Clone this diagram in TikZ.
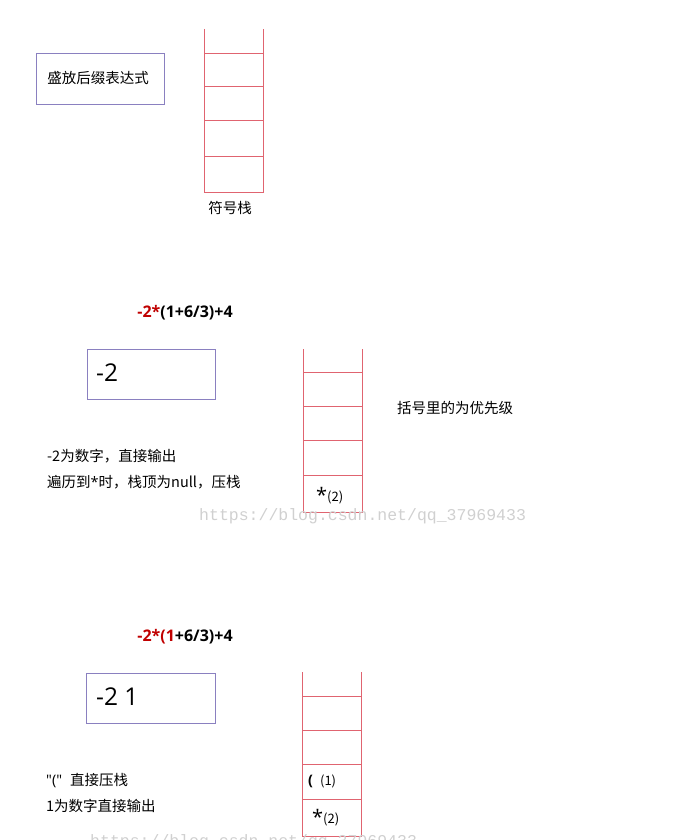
\documentclass[tikz,border=0pt]{standalone}
\usepackage{fontspec}
\setmainfont{Noto Sans CJK SC}
\newfontfamily\wmfont{Liberation Mono}
\newfontfamily\latfont{Open Sans}
\definecolor{boxc}{HTML}{8A80C0}
\definecolor{stk}{HTML}{E06470}
\definecolor{redt}{HTML}{C00000}
\definecolor{wm}{HTML}{D0D0D0}
\newcommand{\bigast}{{\latfont\fontsize{20}{20}\selectfont\raisebox{-4pt}{*}}}
\begin{document}
\begin{tikzpicture}[x=1pt,y=-1pt,
  outbox/.style={draw=boxc,line width=0.8pt},
  stkline/.style={draw=stk,line width=0.8pt},
  txt/.style={inner sep=0pt,font=\fontsize{14.5}{16}\selectfont},
  ltxt/.style={txt,anchor=west},
  title/.style={inner sep=0pt,font=\latfont\bfseries\fontsize{16}{18}\selectfont},
  big/.style={inner sep=0pt,anchor=west,font=\latfont\fontsize{24.5}{28}\selectfont},
  wmark/.style={inner sep=0pt,anchor=west,text=wm,font=\wmfont\fontsize{16.5}{19}\selectfont}]
\useasboundingbox (0,0) rectangle (675,840);
% ---------- part 1
\draw[outbox] (36,53) rectangle (164,104);
\node[txt] (lbl1) at (98,78) {盛放后缀表达式};
\draw[stkline] (204,29) -- (204,192) -- (263,192) -- (263,29);
\foreach \yy in {53,86,120,156} \draw[stkline] (204,\yy) -- (263,\yy);
\node[txt] (stk1) at (230,208) {符号栈};
% ---------- part 2
\node[title] (t2) at (185,313) {\textcolor{redt}{-2*}(1+6/3)+4};
\draw[outbox] (87,349) rectangle (215,399);
\node[big] (o2) at (96,373) {-2};
\draw[stkline] (303,349) -- (303,512) -- (362,512) -- (362,349);
\foreach \yy in {372,406,440,475} \draw[stkline] (303,\yy) -- (362,\yy);
\node[txt,anchor=west] (s2a) at (316,496) {\bigast\fontsize{13}{14}\selectfont\raisebox{-3pt}{(2)}};
\node[txt] (n2) at (455,408) {括号里的为优先级};
\node[ltxt] (d2a) at (47,456) {-2为数字，直接输出};
\node[ltxt] (d2b) at (47,482) {遍历到{\latfont*}时，栈顶为null，压栈};
\node[wmark] (w1) at (199,516) {https://blog.csdn.net/qq\_37969433};
% ---------- part 3
\node[title] (t3) at (185,637) {\textcolor{redt}{-2*(1}+6/3)+4};
\draw[outbox] (86,673) rectangle (215,723);
\node[big] (o3) at (96,697) {-2 1};
\draw[stkline] (302,672) -- (302,836) -- (361,836) -- (361,672);
\foreach \yy in {696,730,764,799} \draw[stkline] (302,\yy) -- (361,\yy);
\node[txt,anchor=west] (s3a) at (308,781) {{\latfont\bfseries(}\hspace{7pt}\fontsize{13}{14}\selectfont(1)};
\node[txt,anchor=west] (s3b) at (312,818) {\bigast\fontsize{13}{14}\selectfont\raisebox{-3pt}{(2)}};
\node[ltxt] (d3a) at (46,781) {{\latfont"("}\hspace{8pt}直接压栈};
\node[ltxt] (d3b) at (46,806) {1为数字直接输出};
\node[wmark] (w2) at (90,842) {https://blog.csdn.net/qq\_37969433};
\end{tikzpicture}
\end{document}
